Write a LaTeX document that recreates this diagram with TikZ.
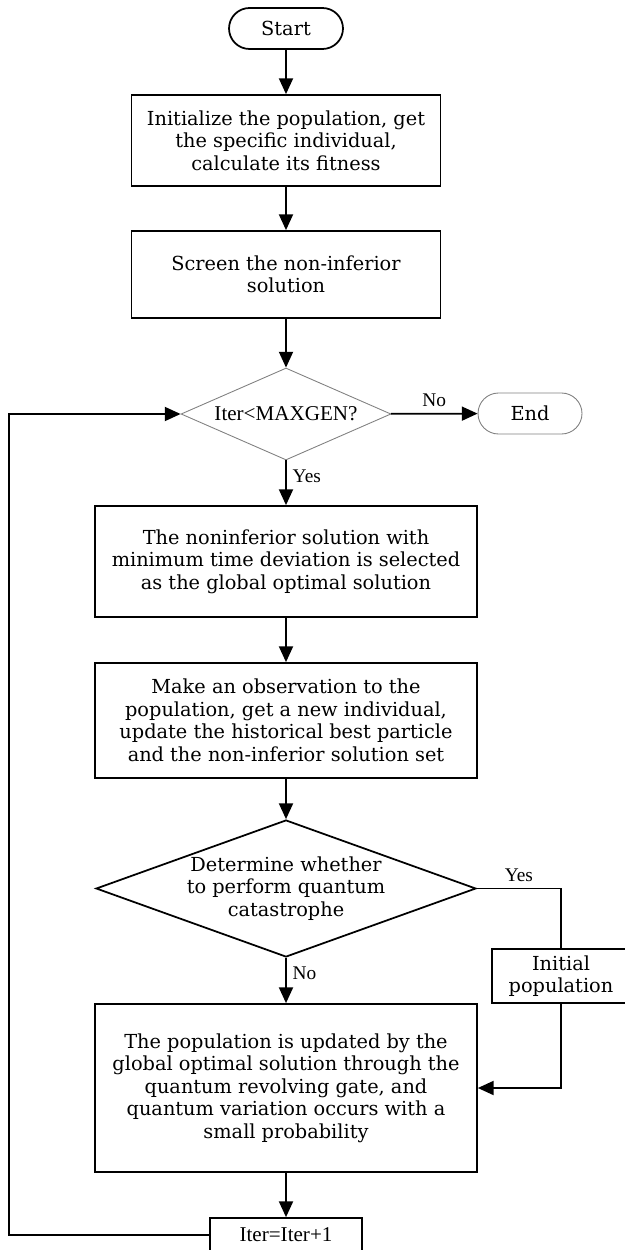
\documentclass[tikz,border=0pt]{standalone}
\usepackage{fontspec}
\setmainfont{DejaVu Serif}
\newfontfamily\labelfont{Liberation Serif}
\usetikzlibrary{shapes.geometric,arrows.meta}

\begin{document}
\begin{tikzpicture}[x=0.02cm,y=-0.02cm,
    every node/.style={font=\fontsize{11}{12.8}\selectfont, align=center},
    procbox/.style={draw, line width=1pt, inner sep=0pt},
    termbox/.style={draw, rounded corners=0.41cm, inner sep=0pt, minimum height=0.82cm},
    decbox/.style={draw, diamond, inner sep=0pt},
    flow/.style={line width=1pt, -{Triangle[length=9pt,width=8pt]}},
    wire/.style={line width=1pt},
    yesno/.style={font=\labelfont\fontsize{11}{12}\selectfont}]
  \useasboundingbox (0,0) rectangle (625,1250);

  % main column
  \node[termbox, line width=1pt, minimum width=2.28cm] (start) at (286,28.5) {Start};
  \node[procbox, minimum width=6.18cm, minimum height=1.82cm] (initpop) at (286,140.5)
    {Initialize the population, get\\ the specific individual,\\ calculate its fitness};
  \node[procbox, minimum width=6.18cm, minimum height=1.74cm] (screen) at (286,274.5)
    {Screen the non-inferior\\ solution};
  \node[decbox, draw=gray, line width=0.5pt, aspect=2.28, minimum width=4.2cm, minimum height=1.84cm,
    font=\labelfont\fontsize{12}{14}\selectfont] (maxgen) at (286,414) {Iter<MAXGEN?};
  \node[termbox, draw=gray, line width=0.5pt, minimum width=2.08cm] (finish) at (530,413.5) {End};
  \node[procbox, minimum width=7.64cm, minimum height=2.22cm] (select) at (286,561.5)
    {The noninferior solution with\\ minimum time deviation is selected\\ as the global optimal solution};
  \node[procbox, minimum width=7.64cm, minimum height=2.3cm] (observe) at (286,720.5)
    {Make an observation to the\\ population, get a new individual,\\ update the historical best particle\\ and the non-inferior solution set};
  \node[decbox, line width=1pt, aspect=2.77, minimum width=7.6cm, minimum height=2.74cm] (catas) at (286,888.5)
    {Determine whether\\ to perform quantum\\ catastrophe};
  \node[procbox, minimum width=2.76cm, minimum height=1.08cm] (newpop) at (561,976)
    {Initial\\ population};
  \node[procbox, minimum width=7.64cm, minimum height=3.36cm] (update) at (286,1088)
    {The population is updated by the\\ global optimal solution through the\\ quantum revolving gate, and\\ quantum variation occurs with a\\ small probability};
  \node[procbox, minimum width=3.04cm, minimum height=0.68cm,
    font=\labelfont\fontsize{12}{14}\selectfont] (iter) at (286,1235) {Iter=Iter+1};

  \coordinate (loopcorner) at (9,1235);

  % connectors
  \draw[flow] (start) -- (initpop);
  \draw[flow] (initpop) -- (screen);
  \draw[flow] (screen) -- (maxgen);
  \draw[flow] (maxgen) -- node[above, yesno] {No} (finish);
  \draw[flow] (maxgen) -- node[right, yesno, pos=0.35] {Yes} (select);
  \draw[flow] (select) -- (observe);
  \draw[flow] (observe) -- (catas);
  \draw[wire] (catas.east) -| node[above, yesno, pos=0.25] {Yes} (newpop.north);
  \draw[flow] (newpop.south) |- (update.east);
  \draw[flow] (catas) -- node[right, yesno, pos=0.35] {No} (update);
  \draw[flow] (update) -- (iter);
  \draw[flow] (iter.west) -- (loopcorner) |- (maxgen.west);
\end{tikzpicture}
\end{document}
